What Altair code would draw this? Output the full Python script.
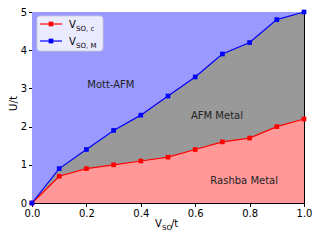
import altair as alt
import pandas as pd

vso = [0.0, 0.1, 0.2, 0.3, 0.4, 0.5, 0.6, 0.7, 0.8, 0.9, 1.0]
v_c = [0.0, 0.7, 0.9, 1.0, 1.1, 1.2, 1.4, 1.6, 1.7, 2.0, 2.2]
v_m = [0.0, 0.9, 1.4, 1.9, 2.3, 2.8, 3.3, 3.9, 4.2, 4.8, 5.0]
labels = ["Mott-AFM", "AFM Metal", "Rashba Metal"]
label_x = [0.29, 0.68, 0.78]
label_y = [3.1, 2.27, 0.57]

df = pd.DataFrame({"x": vso, "vc": v_c, "vm": v_m, "top": [5.0] * len(vso)})
lab = pd.DataFrame({"t": labels, "x": label_x, "y": label_y})

W, H = 272, 191
xs = alt.Scale(domain=[0, 1], nice=False, zero=False)
ys = alt.Scale(domain=[0, 5], nice=False)
xax = alt.Axis(values=[0, 0.2, 0.4, 0.6, 0.8, 1.0], format=".1f", title=None, grid=False,
               labelOverlap=False, labelFlush=False)
yax = alt.Axis(values=[0, 1, 2, 3, 4, 5], format="d", title="U/t", grid=False,
               labelOverlap=False, labelFlush=False,
               titleFontWeight="normal", titleFontSize=10.5, titleAngle=-90,
               titleX=-24, titleY=91, titleAlign="center", titleBaseline="top")

def X(f="x"):
    return alt.X(f + ":Q", scale=xs, axis=xax)

def Y(f):
    return alt.Y(f + ":Q", scale=ys, axis=yax)

base = alt.Chart(df)

blue_area = base.mark_area(color="#9999ff", opacity=1).encode(
    x=X(), y=Y("top"), y2=alt.datum(0))
gray_area = base.mark_area(color="#999999", opacity=1).encode(x=X(), y=Y("vm"))
red_area = base.mark_area(color="#ff9999", opacity=1).encode(x=X(), y=Y("vc"))
red_line = base.mark_line(color="#ff0000", strokeWidth=1.2, clip=False).encode(x=X(), y=Y("vc"))
red_pts = base.mark_square(color="#ff0000", size=22, opacity=1, clip=False).encode(x=X(), y=Y("vc"))
blue_line = base.mark_line(color="#0000ff", strokeWidth=1.2, clip=False).encode(x=X(), y=Y("vm"))
blue_pts = base.mark_square(color="#0000ff", size=22, opacity=1, clip=False).encode(x=X(), y=Y("vm"))

texts = alt.Chart(lab).mark_text(font="DejaVu Sans", fontSize=10, color="#222222").encode(
    x=X(), y=Y("y"), text="t:N")

one = alt.Chart(pd.DataFrame({"a": [0]}))
# legend
leg_box = one.mark_rect(fill="white", fillOpacity=0.8, stroke="#cccccc", strokeWidth=0.8, cornerRadius=3).encode(
    x=alt.value(5), x2=alt.value(71), y=alt.value(4), y2=alt.value(39))
leg_r_line = one.mark_rule(color="#ff0000", strokeWidth=1.2).encode(
    x=alt.value(8), x2=alt.value(30), y=alt.value(12))
leg_r_pt = one.mark_square(color="#ff0000", size=22, opacity=1).encode(x=alt.value(19), y=alt.value(12))
leg_b_line = one.mark_rule(color="#0000ff", strokeWidth=1.2).encode(
    x=alt.value(8), x2=alt.value(30), y=alt.value(29))
leg_b_pt = one.mark_square(color="#0000ff", size=22, opacity=1).encode(x=alt.value(19), y=alt.value(29))

def txt(s, x, y, size):
    return one.mark_text(text=s, font="DejaVu Sans", fontSize=size, align="left", baseline="alphabetic",
                         color="black").encode(x=alt.value(x), y=alt.value(y))

leg_texts = [
    txt("V", 37, 16, 10), txt("SO, c", 44, 19, 7),
    txt("V", 37, 33, 10), txt("SO, M", 44, 36, 7),
]
xtitle = [txt("V", 123, 215, 10), txt("SO", 130, 218, 7), txt("/t", 139, 215, 10)]

chart = alt.layer(blue_area, gray_area, red_area, red_line, blue_line, red_pts, blue_pts, texts,
                  leg_box, leg_r_line, leg_b_line, leg_r_pt, leg_b_pt, *leg_texts, *xtitle).properties(
    width=W, height=H, autosize=alt.AutoSizeParams(type="none"),
    padding={"left": 24, "top": 4, "right": 8, "bottom": 29},
).configure_view(stroke="black", strokeWidth=1).configure_axis(
    labelFont="DejaVu Sans", labelFontSize=10, labelColor="black", tickColor="black",
    domainColor="black", tickSize=3.5, titleFont="DejaVu Sans", titleColor="black", labelPadding=2,
    domain=True)

chart.save("out.html", embed_options={"renderer": "svg", "actions": False})
